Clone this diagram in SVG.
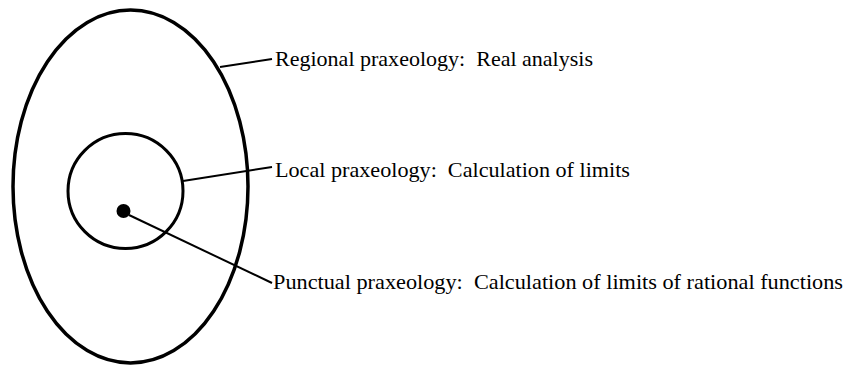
<svg xmlns="http://www.w3.org/2000/svg" width="846" height="370" viewBox="0 0 846 370">
<style>
.shape{fill:none;stroke:#000}
.lbl{font-family:"Liberation Serif","Times New Roman",serif;font-size:22px;fill:#000;white-space:pre}
.conn line{stroke:#000;stroke-width:2}
</style>
<rect width="846" height="370" fill="#fff"/>
<g id="regional"><ellipse class="shape" cx="130.5" cy="186.5" rx="117.5" ry="176.5" stroke-width="3.5"/></g>
<g id="local"><circle class="shape" cx="125.5" cy="191" r="57.5" stroke-width="3"/></g>
<g id="punctual"><circle cx="123.5" cy="211" r="7" fill="#000"/></g>
<g id="connectors" class="conn">
<line x1="220" y1="67" x2="272" y2="59"/>
<line x1="183" y1="181" x2="272" y2="167"/>
<line x1="129" y1="215" x2="272" y2="283"/>
</g>
<g id="labels">
<text class="lbl" x="275" y="66" textLength="318" lengthAdjust="spacingAndGlyphs" xml:space="preserve">Regional praxeology:  Real analysis</text>
<text class="lbl" x="275" y="177" textLength="355" lengthAdjust="spacingAndGlyphs" xml:space="preserve">Local praxeology:  Calculation of limits</text>
<text class="lbl" x="273" y="289" textLength="570" lengthAdjust="spacingAndGlyphs" xml:space="preserve">Punctual praxeology:  Calculation of limits of rational functions</text>
</g>
</svg>
